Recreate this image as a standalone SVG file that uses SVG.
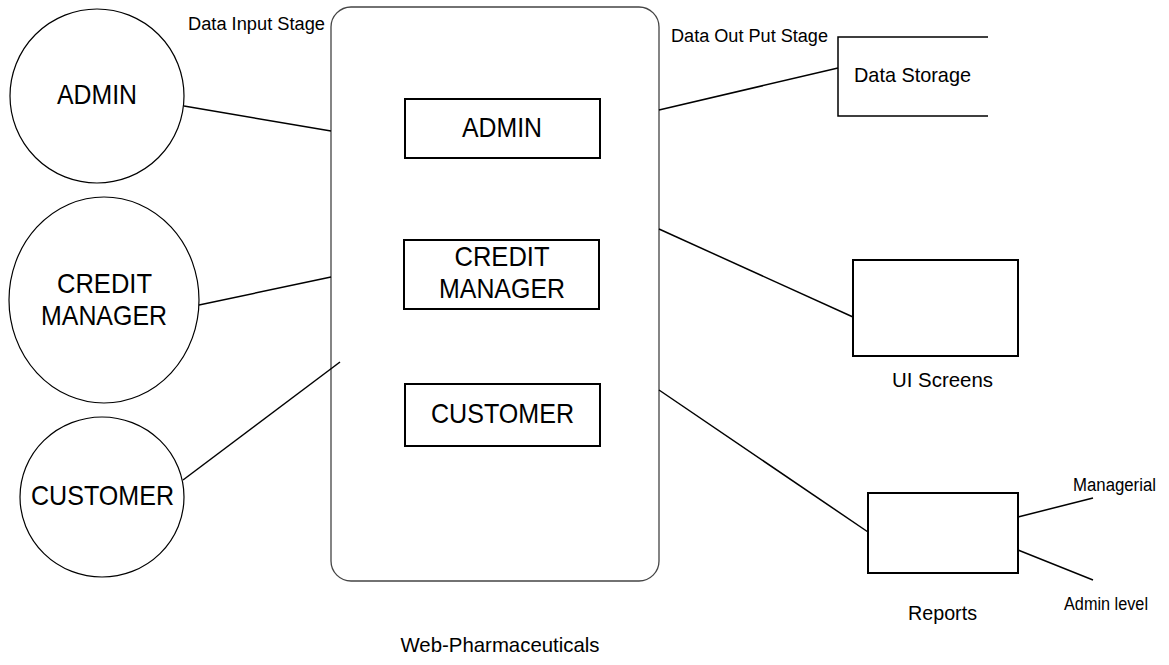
<svg xmlns="http://www.w3.org/2000/svg" width="1169" height="665" viewBox="0 0 1169 665">
  <style>
    text { font-family: "Liberation Sans", Arial, sans-serif; fill: #000; }
    .big { font-size: 28px; text-anchor: middle; }
    .lbl { font-size: 21px; }
    .sm { font-size: 18px; }
    .actor { fill: #fff; stroke: #000; stroke-width: 1.2; }
    .box { fill: #fff; stroke: #000; stroke-width: 2; }
    .system { fill: #fff; stroke: #444; stroke-width: 1.3; }
    .link { stroke: #000; stroke-width: 1.5; fill: none; }
  </style>
  <rect width="1169" height="665" fill="#fff"/>

  <!-- central system boundary -->
  <g id="system">
    <rect class="system" x="331" y="7" width="328" height="574" rx="20" ry="20"/>
    <text class="lbl" x="500" y="652" text-anchor="middle" textLength="199" lengthAdjust="spacingAndGlyphs">Web-Pharmaceuticals</text>
  </g>

  <!-- connectors -->
  <g id="connectors">
    <line class="link" x1="184" y1="106" x2="331" y2="131"/>
    <line class="link" x1="199" y1="305" x2="331" y2="277"/>
    <line class="link" x1="183" y1="480" x2="340" y2="362"/>
    <line class="link" x1="659" y1="110" x2="838" y2="68"/>
    <line class="link" x1="659" y1="229" x2="853" y2="317"/>
    <line class="link" x1="659" y1="390" x2="868" y2="532"/>
    <line class="link" x1="1018" y1="517" x2="1093" y2="498"/>
    <line class="link" x1="1018" y1="550" x2="1093" y2="580"/>
  </g>

  <!-- external actors -->
  <g id="actor-admin">
    <ellipse class="actor" cx="97" cy="96" rx="87" ry="87"/>
    <text class="big" x="97" y="104" textLength="80" lengthAdjust="spacingAndGlyphs">ADMIN</text>
  </g>
  <g id="actor-credit-manager">
    <ellipse class="actor" cx="104" cy="300" rx="95" ry="103"/>
    <text class="big" x="104.5" y="293" textLength="95" lengthAdjust="spacingAndGlyphs">CREDIT</text>
    <text class="big" x="104" y="325" textLength="126" lengthAdjust="spacingAndGlyphs">MANAGER</text>
  </g>
  <g id="actor-customer">
    <ellipse class="actor" cx="102" cy="497" rx="82" ry="80"/>
    <text class="big" x="102.5" y="505" textLength="143" lengthAdjust="spacingAndGlyphs">CUSTOMER</text>
  </g>

  <!-- modules inside the system -->
  <g id="module-admin">
    <rect class="box" x="405" y="99" width="195" height="59"/>
    <text class="big" x="502" y="137" textLength="80" lengthAdjust="spacingAndGlyphs">ADMIN</text>
  </g>
  <g id="module-credit-manager">
    <rect class="box" x="404" y="240" width="195" height="69"/>
    <text class="big" x="502" y="266" textLength="95" lengthAdjust="spacingAndGlyphs">CREDIT</text>
    <text class="big" x="502" y="298" textLength="126" lengthAdjust="spacingAndGlyphs">MANAGER</text>
  </g>
  <g id="module-customer">
    <rect class="box" x="405" y="384" width="195" height="62"/>
    <text class="big" x="502.5" y="423" textLength="143" lengthAdjust="spacingAndGlyphs">CUSTOMER</text>
  </g>

  <!-- stage labels -->
  <g id="label-input-stage">
    <text class="sm" x="188" y="30" textLength="137" lengthAdjust="spacingAndGlyphs">Data Input Stage</text>
  </g>
  <g id="label-output-stage">
    <text class="sm" x="671" y="42" textLength="157" lengthAdjust="spacingAndGlyphs">Data Out Put Stage</text>
  </g>

  <!-- outputs -->
  <g id="data-storage">
    <path class="link" d="M988 37 H838 V116 H988" stroke-width="1.3"/>
    <text class="lbl" x="854" y="82" textLength="117" lengthAdjust="spacingAndGlyphs">Data Storage</text>
  </g>
  <g id="ui-screens">
    <rect class="box" x="853" y="260" width="165" height="96"/>
    <text class="lbl" x="892" y="387" textLength="101" lengthAdjust="spacingAndGlyphs">UI Screens</text>
  </g>
  <g id="reports">
    <rect class="box" x="868" y="493" width="150" height="80"/>
    <text class="lbl" x="908" y="620" textLength="69" lengthAdjust="spacingAndGlyphs">Reports</text>
  </g>
  <g id="label-managerial">
    <text class="sm" x="1073" y="491" textLength="83" lengthAdjust="spacingAndGlyphs">Managerial</text>
  </g>
  <g id="label-admin-level">
    <text class="sm" x="1064" y="610" textLength="84" lengthAdjust="spacingAndGlyphs">Admin level</text>
  </g>
</svg>
